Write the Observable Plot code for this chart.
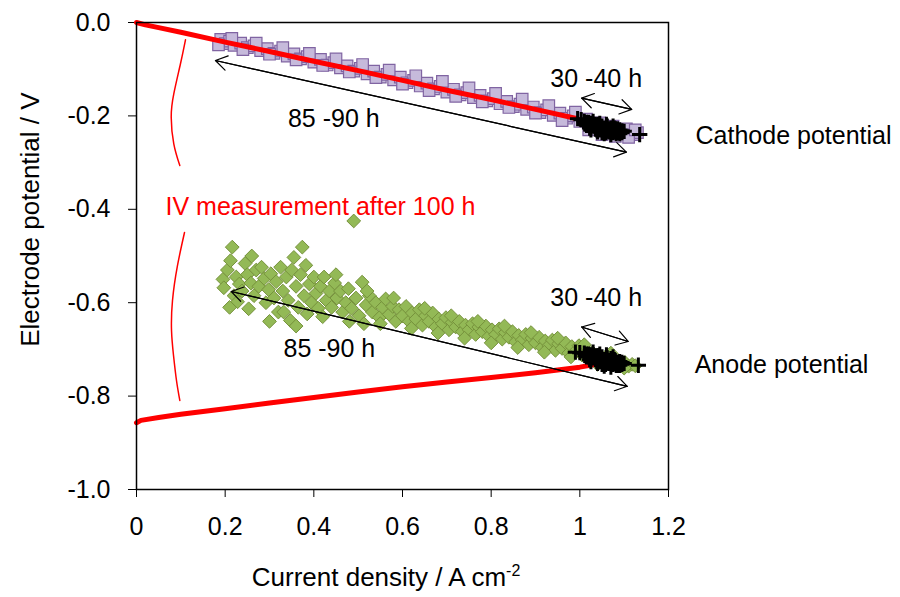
<!DOCTYPE html>
<html><head><meta charset="utf-8">
<script src="https://cdn.jsdelivr.net/npm/d3@7"></script>
<script src="https://cdn.jsdelivr.net/npm/@observablehq/plot@0.6"></script>
<style>
body{margin:0;background:#fff;}
#chart svg{font-family:"Liberation Sans", Arial, sans-serif;}
</style></head><body><div id="chart"></div>
<script>
const xTicks = [0, 0.2, 0.4, 0.6, 0.8, 1.0, 1.2];
const xTickLabels = ["0", "0.2", "0.4", "0.6", "0.8", "1", "1.2"];
const yTicks = [0, -0.2, -0.4, -0.6, -0.8, -1.0];
const yTickLabels = ["0.0", "-0.2", "-0.4", "-0.6", "-0.8", "-1.0"];

// Cathode potential, 85-90 h (purple squares)
const cathodePts = [
[0.19,-0.036],[0.20,-0.045],[0.21,-0.040],[0.22,-0.049],[0.235,-0.044],[0.25,-0.054],[0.265,-0.050],[0.28,-0.060],
[0.295,-0.056],[0.31,-0.066],[0.325,-0.061],[0.34,-0.072],[0.355,-0.067],[0.37,-0.078],[0.385,-0.073],[0.40,-0.085],
[0.415,-0.079],[0.43,-0.091],[0.445,-0.086],[0.46,-0.097],[0.475,-0.093],[0.49,-0.104],[0.505,-0.098],[0.52,-0.110],
[0.535,-0.104],[0.55,-0.117],[0.565,-0.111],[0.58,-0.123],[0.595,-0.117],[0.61,-0.129],[0.625,-0.124],[0.64,-0.136],
[0.655,-0.130],[0.67,-0.142],[0.685,-0.137],[0.70,-0.149],[0.715,-0.143],[0.73,-0.155],[0.745,-0.150],[0.76,-0.161],
[0.775,-0.156],[0.79,-0.168],[0.805,-0.163],[0.82,-0.174],[0.835,-0.169],[0.85,-0.180],[0.865,-0.175],[0.88,-0.186],
[0.895,-0.181],[0.91,-0.193],[0.925,-0.187],[0.94,-0.199],[0.955,-0.194],[0.97,-0.205],[0.985,-0.200],[1.00,-0.212],
[1.015,-0.207],[1.03,-0.222],[1.045,-0.215],[1.06,-0.230],[1.075,-0.222],[1.09,-0.236],[1.105,-0.228],[1.12,-0.240],[1.13,-0.236],
[0.185,-0.048],[0.215,-0.034],[0.24,-0.058],[0.27,-0.044],[0.30,-0.068],[0.33,-0.054],[0.36,-0.080],[0.39,-0.066],
[0.42,-0.092],[0.45,-0.078],[0.48,-0.106],[0.51,-0.090],[0.54,-0.118],[0.57,-0.102],[0.60,-0.132],[0.63,-0.114],
[0.66,-0.146],[0.69,-0.126],[0.72,-0.158],[0.75,-0.140],[0.78,-0.170],[0.81,-0.152],[0.84,-0.182],[0.87,-0.164],
[0.90,-0.194],[0.93,-0.178],[0.96,-0.210],[0.99,-0.192],[1.02,-0.230],[1.05,-0.240],[1.08,-0.244],[1.11,-0.246],[1.125,-0.230]
];

// Anode potential, 85-90 h (green diamonds)
const anodePts = [
[0.195,-0.550],[0.197,-0.568],[0.205,-0.530],[0.212,-0.510],[0.216,-0.481],[0.220,-0.585],[0.225,-0.545],[0.228,-0.598],
[0.232,-0.560],[0.238,-0.575],[0.245,-0.516],[0.250,-0.540],[0.253,-0.613],[0.258,-0.558],[0.265,-0.585],[0.270,-0.530],
[0.276,-0.565],[0.282,-0.524],[0.288,-0.548],[0.292,-0.600],[0.298,-0.572],[0.303,-0.538],[0.310,-0.590],[0.315,-0.555],
[0.320,-0.620],[0.325,-0.524],[0.330,-0.575],[0.332,-0.620],[0.338,-0.545],[0.342,-0.595],[0.347,-0.638],[0.350,-0.530],
[0.355,-0.503],[0.360,-0.565],[0.365,-0.610],[0.370,-0.540],[0.374,-0.481],[0.378,-0.585],[0.382,-0.520],[0.385,-0.624],
[0.390,-0.560],[0.395,-0.600],[0.400,-0.545],[0.405,-0.580],[0.410,-0.612],[0.415,-0.565],[0.423,-0.545],[0.428,-0.595],
[0.435,-0.575],[0.440,-0.610],[0.447,-0.558],[0.452,-0.590],[0.460,-0.575],[0.465,-0.620],[0.472,-0.600],[0.478,-0.570],
[0.485,-0.612],[0.490,-0.425],[0.495,-0.590],[0.502,-0.628],[0.509,-0.556],[0.513,-0.645],[0.518,-0.605],[0.525,-0.585],
[0.532,-0.620],[0.540,-0.600],[0.548,-0.632],[0.555,-0.610],[0.562,-0.592],[0.570,-0.625],[0.578,-0.608],[0.585,-0.640],
[0.592,-0.615],[0.600,-0.628],[0.608,-0.608],[0.615,-0.640],[0.622,-0.622],[0.630,-0.635],[0.638,-0.615],[0.645,-0.648],
[0.652,-0.628],[0.660,-0.640],[0.668,-0.622],[0.675,-0.652],[0.682,-0.635],[0.690,-0.645],[0.698,-0.632],[0.705,-0.658],
[0.712,-0.642],[0.720,-0.652],[0.728,-0.640],[0.735,-0.662],[0.742,-0.648],[0.750,-0.658],[0.758,-0.645],[0.765,-0.668],
[0.772,-0.652],[0.780,-0.662],[0.788,-0.650],[0.795,-0.672],[0.802,-0.658],[0.810,-0.668],[0.818,-0.656],[0.825,-0.678],
[0.832,-0.664],[0.840,-0.674],[0.848,-0.662],[0.855,-0.684],[0.862,-0.670],[0.870,-0.680],[0.878,-0.668],[0.885,-0.690],
[0.892,-0.676],[0.900,-0.686],[0.908,-0.674],[0.915,-0.696],[0.922,-0.682],[0.930,-0.692],[0.938,-0.680],[0.945,-0.702],
[0.952,-0.688],[0.960,-0.698],[0.968,-0.686],[0.975,-0.708],[0.982,-0.694],[0.990,-0.704],[0.998,-0.692],[1.005,-0.712],
[1.012,-0.700],[1.020,-0.716],[1.028,-0.706],[1.035,-0.722],[1.042,-0.712],[1.050,-0.726],[1.058,-0.716],[1.065,-0.730],
[1.072,-0.720],[1.080,-0.732],[1.088,-0.724],[1.095,-0.734],[1.102,-0.728],[1.110,-0.736],[1.118,-0.732],[1.125,-0.735],
[0.55,-0.645],[0.58,-0.590],[0.62,-0.655],[0.65,-0.612],[0.68,-0.665],[0.71,-0.628],[0.74,-0.676],[0.77,-0.640],
[0.80,-0.686],[0.83,-0.650],[0.86,-0.696],[0.89,-0.664],[0.92,-0.706],[0.95,-0.676],[0.98,-0.716],[1.01,-0.690],
[1.04,-0.732],[1.07,-0.708],[1.10,-0.740],[0.42,-0.630],[0.45,-0.540],[0.48,-0.640],[0.52,-0.575],[0.30,-0.640],
[0.26,-0.500],[0.21,-0.610],[0.36,-0.650]
];

// 30-40 h (black plus markers)
const cathodeEarly = [
[1.010,-0.212],[1.015,-0.220],[1.020,-0.214],[1.025,-0.224],[1.030,-0.218],[1.035,-0.228],[1.040,-0.220],[1.045,-0.230],
[1.050,-0.222],[1.055,-0.232],[1.060,-0.224],[1.065,-0.234],[1.070,-0.226],[1.075,-0.236],[1.080,-0.228],[1.085,-0.236],
[1.090,-0.230],[1.095,-0.236],[1.030,-0.212],[1.045,-0.216],[1.060,-0.218],[1.075,-0.222],[1.025,-0.230],[1.040,-0.234],
[1.055,-0.238],[1.070,-0.240],[1.085,-0.228],[1.100,-0.233],[1.050,-0.228],[1.065,-0.228],[1.035,-0.224],[1.020,-0.220],
[1.015,-0.214],[1.025,-0.216],[1.035,-0.218],[1.045,-0.222],[1.055,-0.226],[1.065,-0.230],[1.075,-0.230],[1.085,-0.232],
[1.095,-0.232],[1.040,-0.226],[1.060,-0.232],[1.080,-0.234],[1.050,-0.236],[1.090,-0.238],
[1.012,-0.217],[1.022,-0.226],[1.032,-0.222],[1.042,-0.218],[1.052,-0.232],[1.062,-0.222],[1.072,-0.234],[1.082,-0.238],
[1.092,-0.234],[1.058,-0.236],[1.068,-0.232],[1.078,-0.226],[1.048,-0.226],[1.038,-0.230],[1.028,-0.220],
[0.995,-0.206],[1.003,-0.208],[1.135,-0.240]
];
const anodeEarly = [
[1.010,-0.708],[1.015,-0.716],[1.020,-0.710],[1.025,-0.720],[1.030,-0.712],[1.035,-0.722],[1.040,-0.714],[1.045,-0.726],
[1.050,-0.716],[1.055,-0.728],[1.060,-0.718],[1.065,-0.730],[1.070,-0.720],[1.075,-0.732],[1.080,-0.724],[1.085,-0.734],
[1.090,-0.726],[1.095,-0.732],[1.100,-0.730],[1.030,-0.706],[1.045,-0.710],[1.060,-0.712],[1.075,-0.716],[1.025,-0.726],
[1.040,-0.730],[1.055,-0.736],[1.070,-0.738],[1.085,-0.728],[1.050,-0.722],[1.065,-0.724],[1.035,-0.718],[1.020,-0.716],
[1.015,-0.710],[1.025,-0.712],[1.035,-0.714],[1.045,-0.718],[1.055,-0.722],[1.065,-0.726],[1.075,-0.726],[1.085,-0.728],
[1.095,-0.728],[1.040,-0.722],[1.060,-0.728],[1.080,-0.730],[1.050,-0.732],[1.090,-0.734],
[1.012,-0.713],[1.022,-0.722],[1.032,-0.718],[1.042,-0.714],[1.052,-0.728],[1.062,-0.718],[1.072,-0.730],[1.082,-0.734],
[1.092,-0.730],[1.058,-0.732],[1.068,-0.728],[1.078,-0.722],[1.048,-0.722],[1.038,-0.726],[1.028,-0.716],
[0.990,-0.706],[1.000,-0.707],[1.132,-0.734]
];

// IV measurement after 100 h (red lines)
const ivCathode = [[0,0],[0.02,-0.005],[0.05,-0.011],[0.1,-0.021],[0.2,-0.042],[0.3,-0.062],[0.4,-0.083],[0.5,-0.103],
[0.6,-0.124],[0.7,-0.145],[0.8,-0.165],[0.9,-0.186],[0.995,-0.206]];
const ivAnode = [[0,-0.857],[0.01,-0.852],[0.05,-0.846],[0.1,-0.839],[0.2,-0.827],[0.3,-0.815],[0.4,-0.803],[0.5,-0.791],
[0.6,-0.780],[0.7,-0.770],[0.8,-0.760],[0.9,-0.750],[1.0,-0.738],[1.03,-0.733]];

// bracket arcs of the IV annotation
const braceUpper = [[0.1105,-0.037],[0.0993,-0.0878],[0.0841,-0.1527],[0.0783,-0.2028],[0.0841,-0.2597],[0.0977,-0.3062]];
const braceLower = [[0.1083,-0.4497],[0.0925,-0.5203],[0.0812,-0.5953],[0.0790,-0.6595],[0.0835,-0.7131],[0.0902,-0.7666],[0.0977,-0.8094]];

// double arrows [x1, y1, x2, y2]
const arrowSegs = [
[0.178,-0.0814,1.105,-0.2777],
[1.004,-0.162,1.117,-0.186],
[0.2136,-0.576,1.107,-0.779],
[1.004,-0.652,1.109,-0.683]
];

const midLabels = [
{x:0.445, y:-0.206, text:"85 -90 h"},
{x:1.037, y:-0.122, text:"30 -40 h"},
{x:0.435, y:-0.700, text:"85 -90 h"},
{x:1.037, y:-0.590, text:"30 -40 h"}
];
const ivLabel = [{x:0.415, y:-0.396, text:"IV measurement after 100 h"}];
const sideLabels = [
{x:1.261, y:-0.244, text:"Cathode potential"},
{x:1.259, y:-0.734, text:"Anode potential"}
];
const yTitle = "Electrode potential / V";
const xTitle = "Current density / A cm";
const xTitleSup = "-2";

const arrowsBoth = arrowSegs.flatMap(([a,b,c,d]) => [[a,b,c,d],[c,d,a,b]]);
const fx = d => d[0], fy = d => d[1];

const plot = Plot.plot({
  width: 900, height: 597,
  marginLeft: 136, marginRight: 232, marginTop: 22, marginBottom: 108,
  style: {fontSize: "25px", fontFamily: "'Liberation Sans', Arial, sans-serif", color: "black", background: "white"},
  x: {domain: [0, 1.2], ticks: xTicks, tickSize: 8, tickPadding: 20, label: null,
      tickFormat: d => xTickLabels[xTicks.findIndex(t => Math.abs(t - d) < 1e-9)]},
  y: {domain: [-1, 0], ticks: yTicks, tickSize: 8, tickPadding: 18, label: null,
      tickFormat: d => yTickLabels[yTicks.findIndex(t => Math.abs(t - d) < 1e-9)]},
  marks: [
    Plot.dot(cathodePts, {x: fx, y: fy, symbol: "square", r: 6.5, fill: "#C6BADB", stroke: "#8064A2", strokeWidth: 1.2}),
    Plot.dot(anodePts, {x: fx, y: fy, symbol: "diamond2", r: 6.2, fill: "#93B956", stroke: "#76923C", strokeWidth: 1}),
    Plot.line(ivCathode, {x: fx, y: fy, stroke: "#FF0000", strokeWidth: 5}),
    Plot.line(ivAnode, {x: fx, y: fy, stroke: "#FF0000", strokeWidth: 5}),
    Plot.line(braceUpper, {x: fx, y: fy, stroke: "#FF0000", strokeWidth: 1.5, curve: "natural"}),
    Plot.line(braceLower, {x: fx, y: fy, stroke: "#FF0000", strokeWidth: 1.5, curve: "natural"}),
    Plot.dot(cathodeEarly, {x: fx, y: fy, symbol: "plus", r: 5, stroke: "black", strokeWidth: 3}),
    Plot.dot(anodeEarly, {x: fx, y: fy, symbol: "plus", r: 5, stroke: "black", strokeWidth: 3}),
    Plot.arrow(arrowsBoth, {x1: d => d[0], y1: d => d[1], x2: d => d[2], y2: d => d[3],
      stroke: "black", strokeWidth: 1.2, headLength: 17, headAngle: 65}),
    Plot.text(midLabels, {x: "x", y: "y", text: "text", textAnchor: "middle", fill: "black", fontSize: 25}),
    Plot.text(ivLabel, {x: "x", y: "y", text: "text", textAnchor: "middle", fill: "#FF0000", fontSize: 25}),
    Plot.text(sideLabels, {x: "x", y: "y", text: "text", textAnchor: "start", fill: "black", fontSize: 25}),
    Plot.text([yTitle], {x: -0.239, y: -0.422, text: d => d, rotate: -90, fontSize: 26, fill: "black"}),
    Plot.frame({stroke: "black", strokeWidth: 1.5})
  ]
});

const sx = plot.scale("x"), sy = plot.scale("y");
const t = d3.select(plot).append("text")
  .attr("x", sx.apply(0.564)).attr("y", sy.apply(-1.208))
  .attr("text-anchor", "middle").attr("font-size", 26).attr("fill", "black");
t.append("tspan").text(xTitle);
t.append("tspan").attr("dy", -10).attr("font-size", 16).text(xTitleSup);

document.getElementById("chart").appendChild(plot);
</script>
</body></html>
